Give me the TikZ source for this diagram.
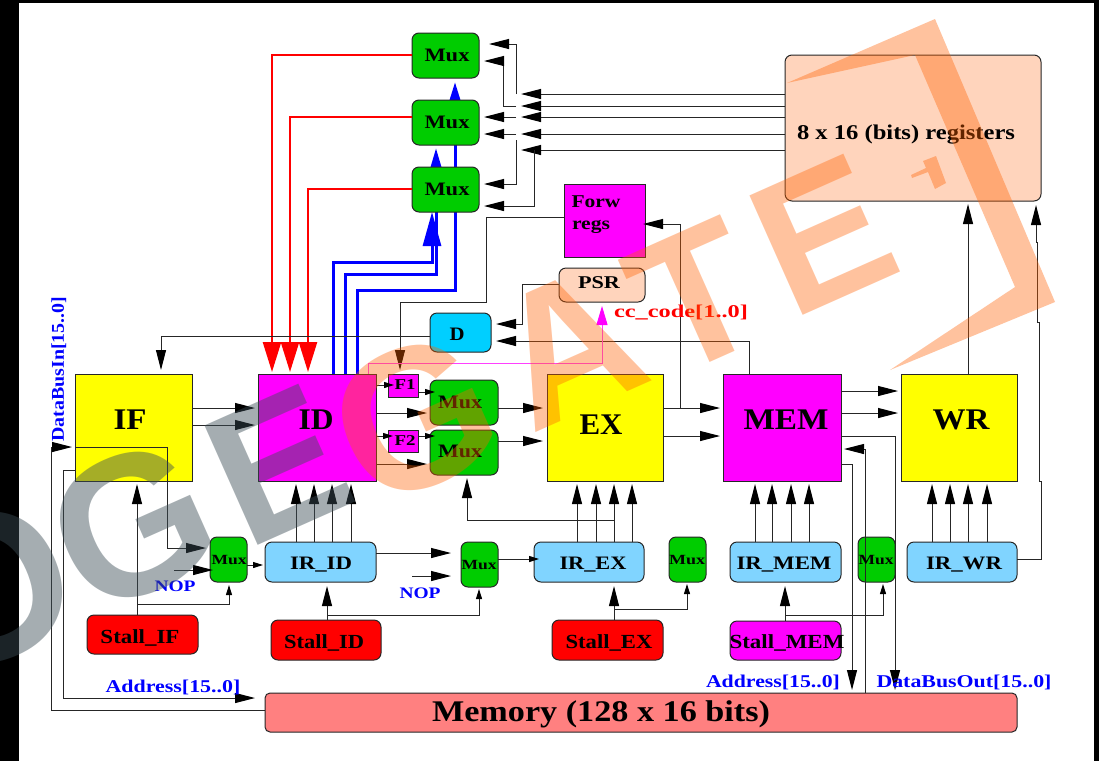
\documentclass[tikz,border=0pt]{standalone}
\usepackage{fontspec}
\usepackage{graphicx}
\setmainfont{Liberation Serif}
\newfontfamily\wmf{Liberation Sans}
\usetikzlibrary{arrows.meta}
\pgfdeclarelayer{bg}
\pgfsetlayers{bg,main}
\definecolor{ink}{HTML}{262626}
\definecolor{muxg}{HTML}{00CC00}
\definecolor{peach}{HTML}{FFD4BC}
\definecolor{irb}{HTML}{80D4FF}
\definecolor{dcy}{HTML}{00CFFF}
\definecolor{memr}{HTML}{FF8080}
\definecolor{wmorange}{RGB}{255,97,0}
\definecolor{wmgrey}{RGB}{61,78,87}
\definecolor{psrm}{HTML}{FF40FF}
\definecolor{pmag}{HTML}{FF00FF}
\definecolor{pyel}{HTML}{FFFF00}
\definecolor{pred}{HTML}{FF0000}
\definecolor{pblu}{HTML}{0000FF}
\tikzset{
  bx/.style={draw=ink,line width=1pt,inner sep=0pt,outer sep=0pt},
  sq/.style={bx},
  rd/.style={bx,rounded corners=7pt},
  rdm/.style={bx,rounded corners=5pt},
  arw/.style={draw=ink,line width=1pt,-{Triangle[length=20pt,width=10pt,color=black]},shorten >=#1},
  arw/.default=3,
  sm/.style={draw=ink,line width=1pt,-{Triangle[length=10pt,width=6pt,color=black]},shorten >=#1},
  sm/.default=3,
  plain/.style={draw=ink,line width=1pt},
  redw/.style={draw=pred,line width=2.5pt,-{Triangle[length=30pt,width=18pt]},shorten >=2pt},
  bluew/.style={draw=pblu,line width=3pt},
  wo/.style={font=\wmf\bfseries\fontsize{190}{190}\selectfont,inner sep=0pt,text=wmorange,text opacity=.38},
  wg/.style={font=\wmf\bfseries\fontsize{190}{190}\selectfont,inner sep=0pt,text=wmgrey,text opacity=.46},
  wpoly/.style={fill=wmorange,fill opacity=.38},
}
% box: style, name, x1, y1, x2, y2
\newcommand{\blk}[6]{\node[#1,minimum width={(#5-#3)*1pt},minimum height={(#6-#4)*1pt}] (#2) at ({(#3+#5)/2},{(#4+#6)/2}) {};}
% text: options, name, cx, cy, width, size, text
\newcommand{\lab}[7]{\node[inner sep=0pt,outer sep=0pt,font=\bfseries,text height={0.66*#6*1pt},text depth=0pt,#1] (#2) at (#3,#4) {\resizebox{#5pt}{\height}{\fontsize{#6}{#6}\selectfont #7}};}
\begin{document}
\begin{tikzpicture}[x=1pt,y=-1pt]
\useasboundingbox (0,0) rectangle (1099,761);
\begin{pgfonlayer}{bg}
\fill[black] (0,0) rectangle (1099,761);
\fill[white] (19,3) rectangle (1094,761);
\end{pgfonlayer}

% ---- boxes
\blk{rd,fill=peach}{regs}{785}{55}{1041}{201}
\blk{rd,fill=muxg}{Ma}{412}{33}{479}{78}
\blk{rd,fill=muxg}{Mb}{412}{100}{479}{145}
\blk{rd,fill=muxg}{Mc}{412}{167}{479}{212}
\blk{sq,fill=pmag}{Forw}{564}{184}{645}{257}
\blk{rd,fill=peach}{PSR}{559}{268}{645}{302}
\blk{rd,fill=dcy}{Dbox}{430}{313}{491}{352}
\blk{sq,fill=pyel}{IF}{75}{374}{192}{481}
\blk{sq,fill=pmag}{ID}{258}{374}{376}{481}
\blk{sq,fill=pyel}{EX}{547}{374}{663}{481}
\blk{sq,fill=pmag}{MEM}{723}{374}{841}{481}
\blk{sq,fill=pyel}{WR}{901}{374}{1017}{481}
\blk{sq,fill=pmag}{Fa}{388}{374}{418}{397}
\blk{sq,fill=pmag}{Fb}{388}{430}{418}{452}
\blk{rd,fill=muxg}{Md}{430}{380}{498}{425}
\blk{rd,fill=muxg}{Me}{430}{430}{498}{475}
\blk{rd,fill=muxg}{MuxIF}{210}{537}{247}{582}
\blk{rd,fill=muxg}{MuxID}{461}{542}{498}{587}
\blk{rd,fill=muxg}{MuxEX}{669}{537}{706}{582}
\blk{rd,fill=muxg}{MuxMEM}{858}{537}{895}{582}
\blk{rd,fill=irb}{IRID}{265}{542}{376}{582}
\blk{rd,fill=irb}{IREX}{534}{542}{644}{582}
\blk{rd,fill=irb}{IRMEM}{730}{542}{841}{582}
\blk{rd,fill=irb}{IRWR}{907}{542}{1017}{582}
\blk{rd,fill=pred}{StIF}{87}{615}{198}{654}
\blk{rd,fill=pred}{StID}{271}{620}{381}{660}
\blk{rd,fill=pred}{StEX}{552}{620}{663}{660}
\blk{rd,fill=pmag}{StMEM}{730}{621}{841}{660}
\blk{rdm,fill=memr}{Memory}{265}{693}{1017}{732}

% ---- blue buses pass behind the muxes
\begin{pgfonlayer}{bg}
\draw[bluew,-{Triangle[length=34pt,width=18pt]}] (ID.north -| 333,0) -- (333,262) -- (432,262) -- (Mc.south -| 432,0);
\draw[bluew,-{Triangle[length=19pt,width=10pt]},shorten >=3pt] (ID.north -| 345,0) -- (345,274) -- (436,274) -- (Mb.south -| 436,0);
\draw[bluew,-{Triangle[length=18pt,width=10pt]},shorten >=4pt] (ID.north -| 357,0) -- (357,290) -- (455,290) -- (Ma.south -| 455,0);
\end{pgfonlayer}

% ---- red buses
\draw[redw] (Ma.west |- 0,55) -- (272,55) -- (ID.north -| 272,0);
\draw[redw] (Mb.west |- 0,117) -- (290,117) -- (ID.north -| 290,0);
\draw[redw] (Mc.west |- 0,189) -- (308,189) -- (ID.north -| 308,0);

% ---- register file to mux bus
\foreach \y/\n in {94/a,106/b,117/c,134/d,150/e}{
  \coordinate (bus\n) at (521,\y);
  \draw[arw=0] (regs.west |- bus\n) -- (bus\n);
}
\coordinate (tapa) at (516,94);
\coordinate (tapb) at (516,106);
\coordinate (tapc) at (516,117);
\coordinate (tapd) at (516,134);
\coordinate (tape) at (516,140);
\coordinate (tapf) at (534,150);
\draw[arw=10] (tapa) -- (516,44) -- (Ma.east |- 0,44);
\draw[arw=5] (tapb) -- (503,106) -- (503,61) -- (Ma.east |- 0,61);
\draw[arw=5] (tapc) -- (Mb.east |- tapc);
\draw[arw=5] (tapd) -- (Mb.east |- tapd);
\draw[arw=5] (tape) -- (516,184) -- (Mc.east |- 0,184);
\draw[arw=5] (tapf) -- (534,206) -- (Mc.east |- 0,206);

% ---- forwarding
\draw[arw=4] (Forw.west |- 0,217) -- (486,217) -- (486,302) -- (400,302) -- (Fa.north -| 400,0);
\draw[arw=-2] (EX.east |- 0,408) -- (680,408) -- (680,224) -- (Forw.east |- 0,224);
\draw[arw=5] (PSR.west |- 0,284) -- (522,284) -- (522,324) -- (Dbox.east |- 0,324);
\draw[arw=5] (MEM.north -| 749,0) -- (749,341) -- (Dbox.east |- 0,341);
\draw[arw=4] (Dbox.west |- 0,336) -- (161,336) -- (IF.north -| 161,0);
\draw[draw=psrm,line width=1pt,-{Triangle[length=19pt,width=11pt,color=pmag]},shorten >=4pt] (ID.north -| 368,0) -- (368,363) -- (602,363) -- (PSR.south -| 602,0);

% ---- pipeline flow
\draw[arw] (IF.east |- 0,408) -- (ID.west |- 0,408);
\draw[arw] (IF.east |- 0,425) -- (ID.west |- 0,425);
\draw[sm=-6] (ID.east |- 0,385) -- (Fa.west |- 0,385);
\draw[sm=-5] (Fa.east |- 0,392) -- (Md.west |- 0,392);
\draw[arw] (ID.east |- 0,413) -- (Md.west |- 0,413);
\draw[sm=-5] (ID.east |- 0,436) -- (Fb.west |- 0,436);
\draw[sm=-5] (Fb.east |- 0,436) -- (Me.west |- 0,436);
\draw[arw] (ID.east |- 0,464) -- (Me.west |- 0,464);
\draw[arw=4] (Md.east |- 0,408) -- (EX.west |- 0,408);
\draw[arw=4] (Me.east |- 0,441) -- (EX.west |- 0,441);
\draw[arw] (EX.east |- 0,408) -- (MEM.west |- 0,408);
\draw[arw] (EX.east |- 0,436) -- (MEM.west |- 0,436);
\draw[arw] (MEM.east |- 0,391) -- (WR.west |- 0,391);
\draw[arw] (MEM.east |- 0,413) -- (WR.west |- 0,413);

% ---- memory links
\draw[arw=3] (MEM.east |- 0,436) -- (895,436) -- (Memory.north -| 895,0);
\draw[arw=3] (MEM.east |- 0,464) -- (852,464) -- (Memory.north -| 852,0);
\draw[arw=3] (Memory.north -| 865,0) -- (865,449) -- (MEM.east |- 0,449);
\draw[arw=3] (WR.north -| 968,0) -- (regs.south -| 968,0);
\draw[arw=4] (IRWR.east |- 0,559) -- (1041,559) -- (1041,481) -- (1039,481) -- (1039,322) -- (1037,322) -- (1037,242) -- (1036,242) -- (regs.south -| 1036,0);
\draw[arw=3] (Memory.west |- 0,710) -- (51,710) -- (51,447) -- (IF.west |- 0,447);
\draw[arw=10] (IF.west |- 0,470) -- (63,470) -- (63,698) -- (Memory.west |- 0,698);
\draw[arw=4] (IF.west |- 0,447) -- (167,447) -- (167,548) -- (MuxIF.west |- 0,548);

% ---- IR to stages
\foreach \x in {296,314,332,351}{\draw[arw] (IRID.north -| \x,0) -- (ID.south -| \x,0);}
\foreach \x in {577,596,614,632}{\draw[arw] (IREX.north -| \x,0) -- (EX.south -| \x,0);}
\foreach \x in {755,772,791,809}{\draw[arw] (IRMEM.north -| \x,0) -- (MEM.south -| \x,0);}
\foreach \x in {932,950,968,987}{\draw[arw] (IRWR.north -| \x,0) -- (WR.south -| \x,0);}
\coordinate (brEX) at (614,520);
\draw[arw=3] (brEX) -- (467,520) -- (Me.south -| 467,0);

% ---- lower muxes
\coordinate (nopA) at (174,570);
\coordinate (nopB) at (412,576);
\draw[arw=-3] (nopA) -- (MuxIF.west |- nopA);
\draw[arw=10] (nopB) -- (MuxID.west |- nopB);
\draw[arw=10] (IRID.east |- 0,553) -- (MuxID.west |- 0,553);
\draw[sm=2] (MuxIF.east |- 0,565) -- (IRID.west |- 0,565);
\draw[sm=-5] (MuxID.east |- 0,559) -- (IREX.west |- 0,559);

% ---- stalls
\coordinate (jIF) at (137,604);
\coordinate (jID) at (327,615);
\coordinate (jEX) at (614,609);
\coordinate (jMEM) at (785,615);
\draw[arw] (StIF.north -| 137,0) -- (IF.south -| 137,0);
\draw[sm=3] (jIF) -- (229,604) -- (MuxIF.south -| 229,0);
\draw[arw=4] (StID.north -| 327,0) -- (IRID.south -| 327,0);
\draw[sm=2] (jID) -- (479,615) -- (MuxID.south -| 479,0);
\draw[arw=4] (StEX.north -| 614,0) -- (IREX.south -| 614,0);
\draw[sm=2] (jEX) -- (687,609) -- (MuxEX.south -| 687,0);
\draw[arw=4] (StMEM.north -| 785,0) -- (IRMEM.south -| 785,0);
\draw[sm=2] (jMEM) -- (883,615) -- (MuxMEM.south -| 883,0);

% ---- texts
\lab{}{tregs}{906}{133}{218}{21}{8 x 16 (bits) registers}
\lab{}{tMa}{447}{55}{45}{19}{Mux}
\lab{}{tMb}{447}{122}{45}{19}{Mux}
\lab{}{tMc}{447}{189}{45}{19}{Mux}
\lab{}{tFw}{596}{202}{49}{18}{Forw}
\lab{}{tFr}{591}{224}{38}{18}{regs}
\lab{}{tPSR}{599}{283}{42}{18}{PSR}
\lab{}{tD}{457}{334}{15}{19}{D}
\lab{}{tIF}{130}{420}{33}{30}{IF}
\lab{}{tID}{316}{420}{35}{30}{ID}
\lab{}{tEX}{601}{425}{43}{30}{EX}
\lab{}{tMEM}{786}{420}{85}{30}{MEM}
\lab{}{tWR}{961}{420}{57}{30}{WR}
\lab{}{tFa}{405}{385}{21}{15}{F1}
\lab{}{tFb}{405}{441}{21}{15}{F2}
\lab{}{tMd}{460}{402}{44}{19}{Mux}
\lab{}{tMe}{460}{451}{44}{19}{Mux}
\lab{}{tMf}{229}{560}{35}{14}{Mux}
\lab{}{tMg}{479}{565}{35}{14}{Mux}
\lab{}{tMh}{687}{560}{36}{14}{Mux}
\lab{}{tMi}{876}{560}{35}{14}{Mux}
\lab{}{tIRID}{321}{563}{62}{19}{IR\_ID}
\lab{}{tIREX}{593}{563}{67}{19}{IR\_EX}
\lab{}{tIRMEM}{784}{563}{95}{19}{IR\_MEM}
\lab{}{tIRWR}{964}{563}{76}{19}{IR\_WR}
\lab{}{tSIF}{140}{637}{79}{20}{Stall\_IF}
\lab{}{tSID}{324}{642}{80}{20}{Stall\_ID}
\lab{}{tSEX}{609}{642}{87}{20}{Stall\_EX}
\lab{}{tSMEM}{787}{642}{115}{20}{Stall\_MEM}
\lab{}{tMemory}{601}{712}{338}{30}{Memory (128 x 16 bits)}
\lab{text=pblu,rotate=90}{tDBI}{58}{369}{145}{18}{DataBusIn[15..0]}
\lab{text=pblu}{tNa}{175}{586}{41}{16}{NOP}
\lab{text=pblu}{tNb}{420}{593}{41}{16}{NOP}
\lab{text=pblu}{tAa}{173}{687}{135}{18}{Address[15..0]}
\lab{text=pblu}{tAb}{773}{682}{134}{18}{Address[15..0]}
\lab{text=pblu}{tDBO}{964}{682}{175}{18}{DataBusOut[15..0]}
\lab{text=pred}{tcc}{681}{312}{134}{18}{cc\_code[1..0]}

% ---- watermark
\node[wg,rotate=24,scale=1.1] (wO) at (-12,588) {O};
\node[wg,rotate=24,scale=1.05] (wG) at (132,525) {G};
\node[wg,rotate=24] (wE) at (278,465) {E};
\node[wo,rotate=24,scale=1.05] (wC) at (414,418) {G};
\node[wo,rotate=24] (wA) at (568,347) {A};
\node[wo,rotate=24] (wT) at (696,297) {T};
\node[wo,rotate=24] (wF) at (823,235) {E};
\fill[wpoly] (787,83) -- (935,19) -- (1055,302) -- (890,370) -- (1015,287) -- (915,55) -- cycle;
\fill[wpoly] (923,161) -- (936,156) -- (946,183) -- (935,189) -- (928,172) -- (912,178) -- (911,175) -- (926,168) -- cycle;
\end{tikzpicture}
\end{document}
